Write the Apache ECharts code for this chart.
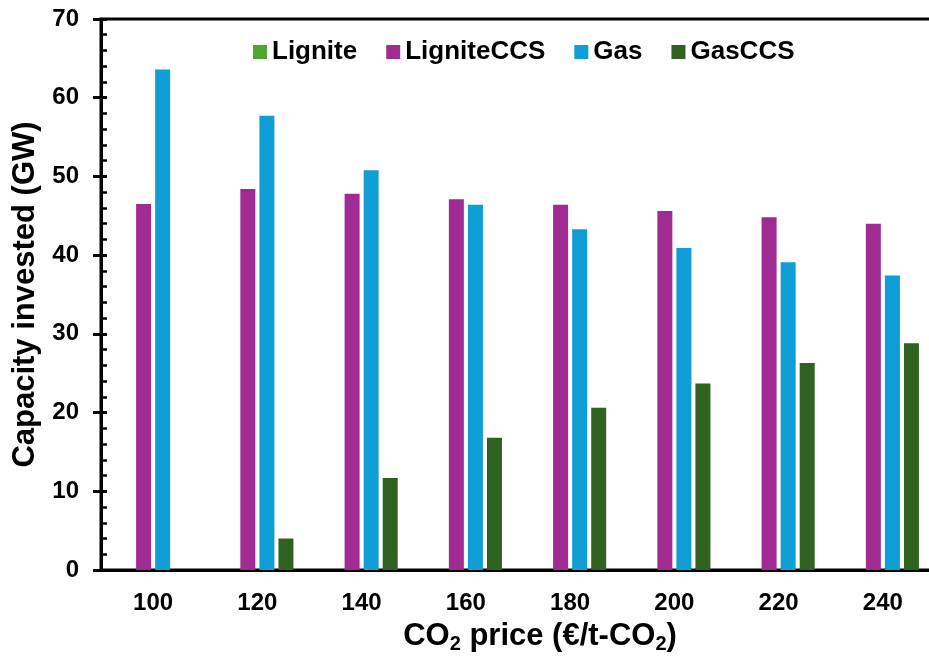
<!DOCTYPE html>
<html>
<head>
<meta charset="utf-8">
<script src="https://cdn.jsdelivr.net/npm/echarts@6/dist/echarts.min.js"></script>
<style>
  html, body { margin: 0; padding: 0; background: #ffffff; }
  #chart { width: 929px; height: 659px; }
</style>
</head>
<body>
<div id="chart"></div>
<script>
// CO2 price scenarios (€/t-CO2)
const co2Prices = ['100', '120', '140', '160', '180', '200', '220', '240'];

// Capacity invested per technology (GW)
const lignite    = [0, 0, 0, 0, 0, 0, 0, 0];
const ligniteCCS = [46.5, 48.4, 47.8, 47.1, 46.4, 45.6, 44.8, 44.0];
const gas        = [63.6, 57.7, 50.8, 46.4, 43.3, 40.9, 39.1, 37.4];
const gasCCS     = [0, 4.0, 11.7, 16.8, 20.6, 23.7, 26.3, 28.8];

// Y axis scale
const yMin = 0, yMax = 70, yStep = 10;

const FONT = "Arial, 'Liberation Sans', sans-serif";

const chart = echarts.init(document.getElementById('chart'), null, { renderer: 'canvas' });

function barSeries(name, data, color) {
  return {
    name: name,
    type: 'bar',
    data: data,
    barWidth: 15,
    barGap: '27%',
    itemStyle: { color: color },
    emphasis: { disabled: true }
  };
}

chart.setOption({
  animation: false,
  backgroundColor: '#ffffff',
  textStyle: { fontFamily: FONT },
  grid: {
    left: 101, right: -6, top: 19, bottom: 89,
    outerBoundsMode: 'none',
    show: true,
    borderColor: '#000000',
    borderWidth: 3,
    backgroundColor: 'transparent'
  },
  legend: {
    left: 253, top: 39,
    padding: 0,
    itemWidth: 14, itemHeight: 14, itemGap: 29,
    icon: 'rect',
    textStyle: { fontSize: 26, fontWeight: 'bold', color: '#000000', fontFamily: FONT },
    data: ['Lignite', 'LigniteCCS', 'Gas', 'GasCCS']
  },
  xAxis: {
    type: 'category',
    data: co2Prices,
    axisLine: { show: true, lineStyle: { color: '#000000', width: 3 } },
    axisTick: { show: false },
    axisLabel: { margin: 21, fontSize: 24, fontWeight: 'bold', color: '#000000', fontFamily: FONT },
    splitLine: { show: false }
  },
  yAxis: [
    {
      type: 'value',
      min: yMin, max: yMax, interval: yStep,
      name: 'Capacity invested (GW)',
      nameLocation: 'middle',
      nameGap: 60,
      nameTextStyle: { fontSize: 31, fontWeight: 'bold', color: '#000000', fontFamily: FONT },
      axisLine: { show: true, lineStyle: { color: '#000000', width: 3 } },
      axisTick: { show: true, inside: false, length: 8, lineStyle: { color: '#000000', width: 3 } },
      axisLabel: { margin: 22, fontSize: 24, fontWeight: 'bold', color: '#000000', fontFamily: FONT },
      splitLine: { show: false }
    },
    {
      type: 'value',
      position: 'left',
      min: yMin, max: yMax, interval: yStep,
      axisLine: { show: false },
      axisTick: { show: true, inside: true, length: 6, lineStyle: { color: '#000000', width: 3 } },
      minorTick: { show: true, splitNumber: 5, length: 6, lineStyle: { color: '#000000', width: 2.5 } },
      axisLabel: { show: false },
      splitLine: { show: false }
    }
  ],
  graphic: [
    {
      type: 'text',
      x: 540, y: 636,
      style: {
        text: 'CO{sub|2} price (€/t-CO{sub|2})',
        align: 'center',
        verticalAlign: 'middle',
        fill: '#000000',
        font: "bold 31px " + FONT,
        rich: {
          sub: { fontSize: 20, fontWeight: 'bold', fontFamily: FONT, verticalAlign: 'bottom', lineHeight: 20 }
        },
        lineHeight: 37
      }
    }
  ],
  series: [
    barSeries('Lignite', lignite, '#4EA72E'),
    barSeries('LigniteCCS', ligniteCCS, '#A02B93'),
    barSeries('Gas', gas, '#0F9ED5'),
    barSeries('GasCCS', gasCCS, '#2F621E')
  ]
});
</script>
</body>
</html>
